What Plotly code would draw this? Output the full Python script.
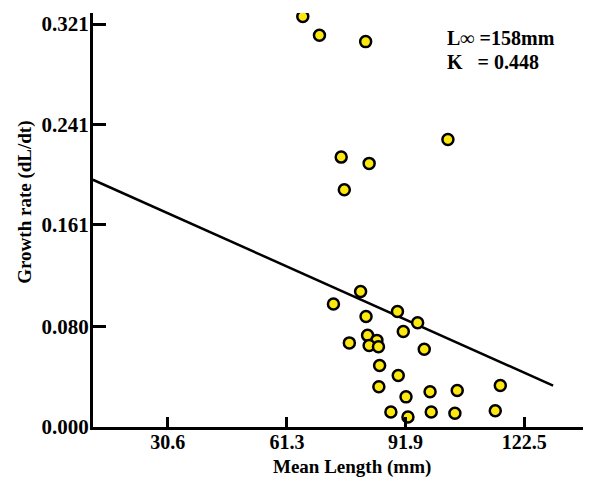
import plotly.graph_objects as go

# Data
mean_length = [65.4, 69.7, 81.6, 102.8, 75.3, 82.5, 76.1,
               80.3, 73.3, 89.8, 81.7, 95.0, 91.3, 82.1, 84.5, 77.4, 82.5, 84.9, 96.7,
               85.2, 90.0, 85.0, 116.3, 98.2, 105.2, 92.0, 88.1, 98.5, 104.6, 115.0, 92.5]
growth_rate = [0.327, 0.312, 0.307, 0.229, 0.215, 0.210, 0.189,
               0.108, 0.098, 0.092, 0.088, 0.083, 0.076, 0.073, 0.069, 0.067, 0.065, 0.064, 0.062,
               0.049, 0.041, 0.032, 0.033, 0.028, 0.029, 0.024, 0.012, 0.012, 0.011, 0.013, 0.008]

# Regression line end points
fit_x = [11.3, 129.9]
fit_y = [0.197, 0.033]

x_ticks = [30.6, 61.3, 91.9, 122.5]
x_tick_labels = ["30.6", "61.3", "91.9", "122.5"]
y_ticks = [0.0, 0.080, 0.161, 0.241, 0.321]
y_tick_labels = ["0.000", "0.080", "0.161", "0.241", "0.321"]

FONT = "Liberation Serif"
bold = dict(family=FONT, color="black", weight="bold")

fig = go.Figure()
fig.add_trace(go.Scatter(x=fit_x, y=fit_y, mode="lines",
                         line=dict(color="black", width=2.5),
                         showlegend=False, hoverinfo="skip"))
fig.add_trace(go.Scatter(x=mean_length, y=growth_rate, mode="markers",
                         marker=dict(size=11, color="#FCE80F",
                                     line=dict(color="black", width=2.5)),
                         showlegend=False))

fig.add_annotation(text="L\u221e =158mm", xref="paper", yref="paper",
                   x=0.707, y=0.94, xanchor="left", yanchor="middle",
                   showarrow=False, font=dict(size=20, **bold))
fig.add_annotation(text="K   = 0.448", xref="paper", yref="paper",
                   x=0.707, y=0.882, xanchor="left", yanchor="middle",
                   showarrow=False, font=dict(size=20, **bold))

# axis titles
fig.add_annotation(text="Mean Length (mm)", xref="paper", yref="paper",
                   x=0.52, y=-0.097, xanchor="center", yanchor="middle",
                   showarrow=False, font=dict(size=19, **bold))
fig.add_annotation(text="Growth rate (dL/dt)", xref="paper", yref="paper",
                   x=-0.137, y=0.5435, xanchor="center", yanchor="middle",
                   textangle=-90, showarrow=False, font=dict(size=19, **bold))

# page body has an 8px default margin, so the figure is 8px smaller
fig.update_layout(
    width=583, height=476,
    margin=dict(l=85, r=0, t=5, b=57, autoexpand=False),
    paper_bgcolor="white", plot_bgcolor="white",
    font=dict(family=FONT, color="black"),
    xaxis=dict(range=[11.34, 139.67], showgrid=False, zeroline=False,
               showline=True, linecolor="black", linewidth=3,
               ticks="inside", ticklen=10, tickwidth=3, tickcolor="black",
               tickvals=x_ticks, ticktext=x_tick_labels, ticklabelstandoff=-5,
               tickfont=dict(size=20, **bold)),
    yaxis=dict(range=[0, 0.3298], showgrid=False, zeroline=False,
               showline=True, linecolor="black", linewidth=3,
               ticks="inside", ticklen=13, tickwidth=3, tickcolor="black",
               tickvals=y_ticks, ticktext=y_tick_labels, ticklabelstandoff=-3,
               tickfont=dict(size=21, **bold)),
)

fig.write_html("out.html")
